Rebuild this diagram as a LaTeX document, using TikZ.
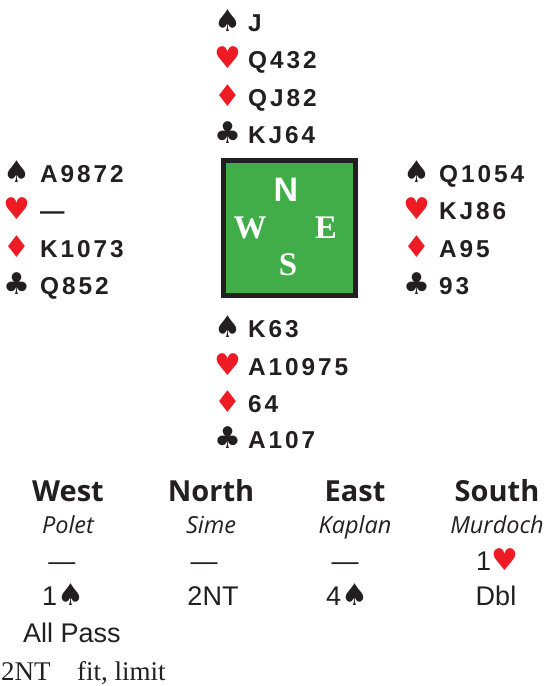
\documentclass[tikz,border=0pt]{standalone}
\usepackage{fontspec}
\newfontfamily\callfont{Liberation Sans}
\newfontfamily\handfont{Liberation Sans}[LetterSpace=12]
\newfontfamily\symfont{DejaVu Sans}
\newfontfamily\headfont{Open Sans}
\newfontfamily\serfont{Liberation Serif}
\definecolor{ink}{RGB}{35,31,32}
\definecolor{suitred}{RGB}{237,28,36}
\definecolor{felt}{RGB}{64,173,73}
\tikzset{
  hand/.style={anchor=base west, inner sep=0, text=ink, font=\handfont\bfseries\fontsize{24.4}{28}\selectfont},
  suitsym/.style={anchor=base, inner sep=0, text=ink, font=\symfont\fontsize{30}{32}\selectfont},
  redsuit/.style={suitsym, text=suitred},
  compass/.style={inner sep=0, text=white, font=\serfont\bfseries\fontsize{33}{35}\selectfont},
  head/.style={anchor=base, inner sep=0, text=ink, font=\headfont\bfseries\fontsize{29}{32}\selectfont},
  player/.style={anchor=base, inner sep=0, text=ink, font=\headfont\itshape\fontsize{23.5}{26}\selectfont},
  call/.style={anchor=base, inner sep=0, text=ink, font=\callfont\fontsize{27}{30}\selectfont},
  note/.style={anchor=base west, inner sep=0, text=ink, font=\serfont\fontsize{27}{30}\selectfont}
}
\newcommand{\bigsuit}[1]{{\symfont\fontsize{30}{32}\selectfont #1}}
\begin{document}
\begin{tikzpicture}[x=1pt,y=-1pt]
\useasboundingbox (0,0) rectangle (549,686);
% table
\node[draw=ink, line width=5pt, fill=felt, minimum width=132pt, minimum height=135pt, inner sep=0, anchor=north west] (table) at (220.5,157.5) {};
\node[compass, font=\callfont\bfseries\fontsize{34}{36}\selectfont] (cn) at (286,190) {N};
\node[compass] (cw) at (250,228) {W};
\node[compass] (ce) at (326,228) {E};
\node[compass] (cs) at (288,265) {S};
% North
\node[suitsym] (ns) at (228,31) {♠};  \node[hand] (nsc) at (248,31) {J};
\node[redsuit] (nh) at (228,68) {♥};  \node[hand] (nhc) at (248,68) {Q432};
\node[redsuit] (nd) at (228,106) {♦}; \node[hand] (ndc) at (248,106) {QJ82};
\node[suitsym] (nc) at (228,143) {♣}; \node[hand] (ncc) at (248,143) {KJ64};
% West
\node[suitsym] (ws) at (17,182) {♠};  \node[hand] (wsc) at (40,182) {A9872};
\node[redsuit] (wh) at (17,219) {♥};  \node[hand] (whc) at (40,219) {—};
\node[redsuit] (wd) at (17,257) {♦};  \node[hand] (wdc) at (40,257) {K1073};
\node[suitsym] (wc) at (17,294) {♣};  \node[hand] (wcc) at (40,294) {Q852};
% East
\node[suitsym] (es) at (417,182) {♠}; \node[hand] (esc) at (439,182) {Q1054};
\node[redsuit] (eh) at (417,219) {♥}; \node[hand] (ehc) at (439,219) {KJ86};
\node[redsuit] (ed) at (417,257) {♦}; \node[hand] (edc) at (439,257) {A95};
\node[suitsym] (ec) at (417,294) {♣}; \node[hand] (ecc) at (439,294) {93};
% South
\node[suitsym] (ss) at (228,337) {♠}; \node[hand] (ssc) at (248,337) {K63};
\node[redsuit] (sh) at (228,375) {♥}; \node[hand] (shc) at (248,375) {A10975};
\node[redsuit] (sd) at (228,412) {♦}; \node[hand] (sdc) at (248,412) {64};
\node[suitsym] (sc) at (228,448) {♣}; \node[hand] (scc) at (248,448) {A107};
% auction
\node[head] (hw) at (68,501) {West};
\node[head] (hn) at (211,501) {North};
\node[head] (he) at (355,501) {East};
\node[head] (hs) at (497,501) {South};
\node[player] (pw) at (68,533) {Polet};
\node[player] (pn) at (211,533) {Sime};
\node[player] (pe) at (355,533) {Kaplan};
\node[player] (ps) at (497,533) {Murdoch};
\node[call] (a1) at (62,570) {—};
\node[call] (a2) at (204,570) {—};
\node[call] (a3) at (345,570) {—};
\node[call] (a4) at (497,570) {1\bigsuit{\color{suitred}♥}};
\node[call] (a5) at (63,605) {1\bigsuit{♠}};
\node[call] (a6) at (213,605) {2NT};
\node[call] (a7) at (347,605) {4\bigsuit{♠}};
\node[call] (a8) at (496,605) {Dbl};
\node[call] (a9) at (72,642) {All Pass};
\node[note] (n1) at (1,680) {2NT};
\node[note] (n2) at (77,680) {fit, limit};
\end{tikzpicture}
\end{document}
